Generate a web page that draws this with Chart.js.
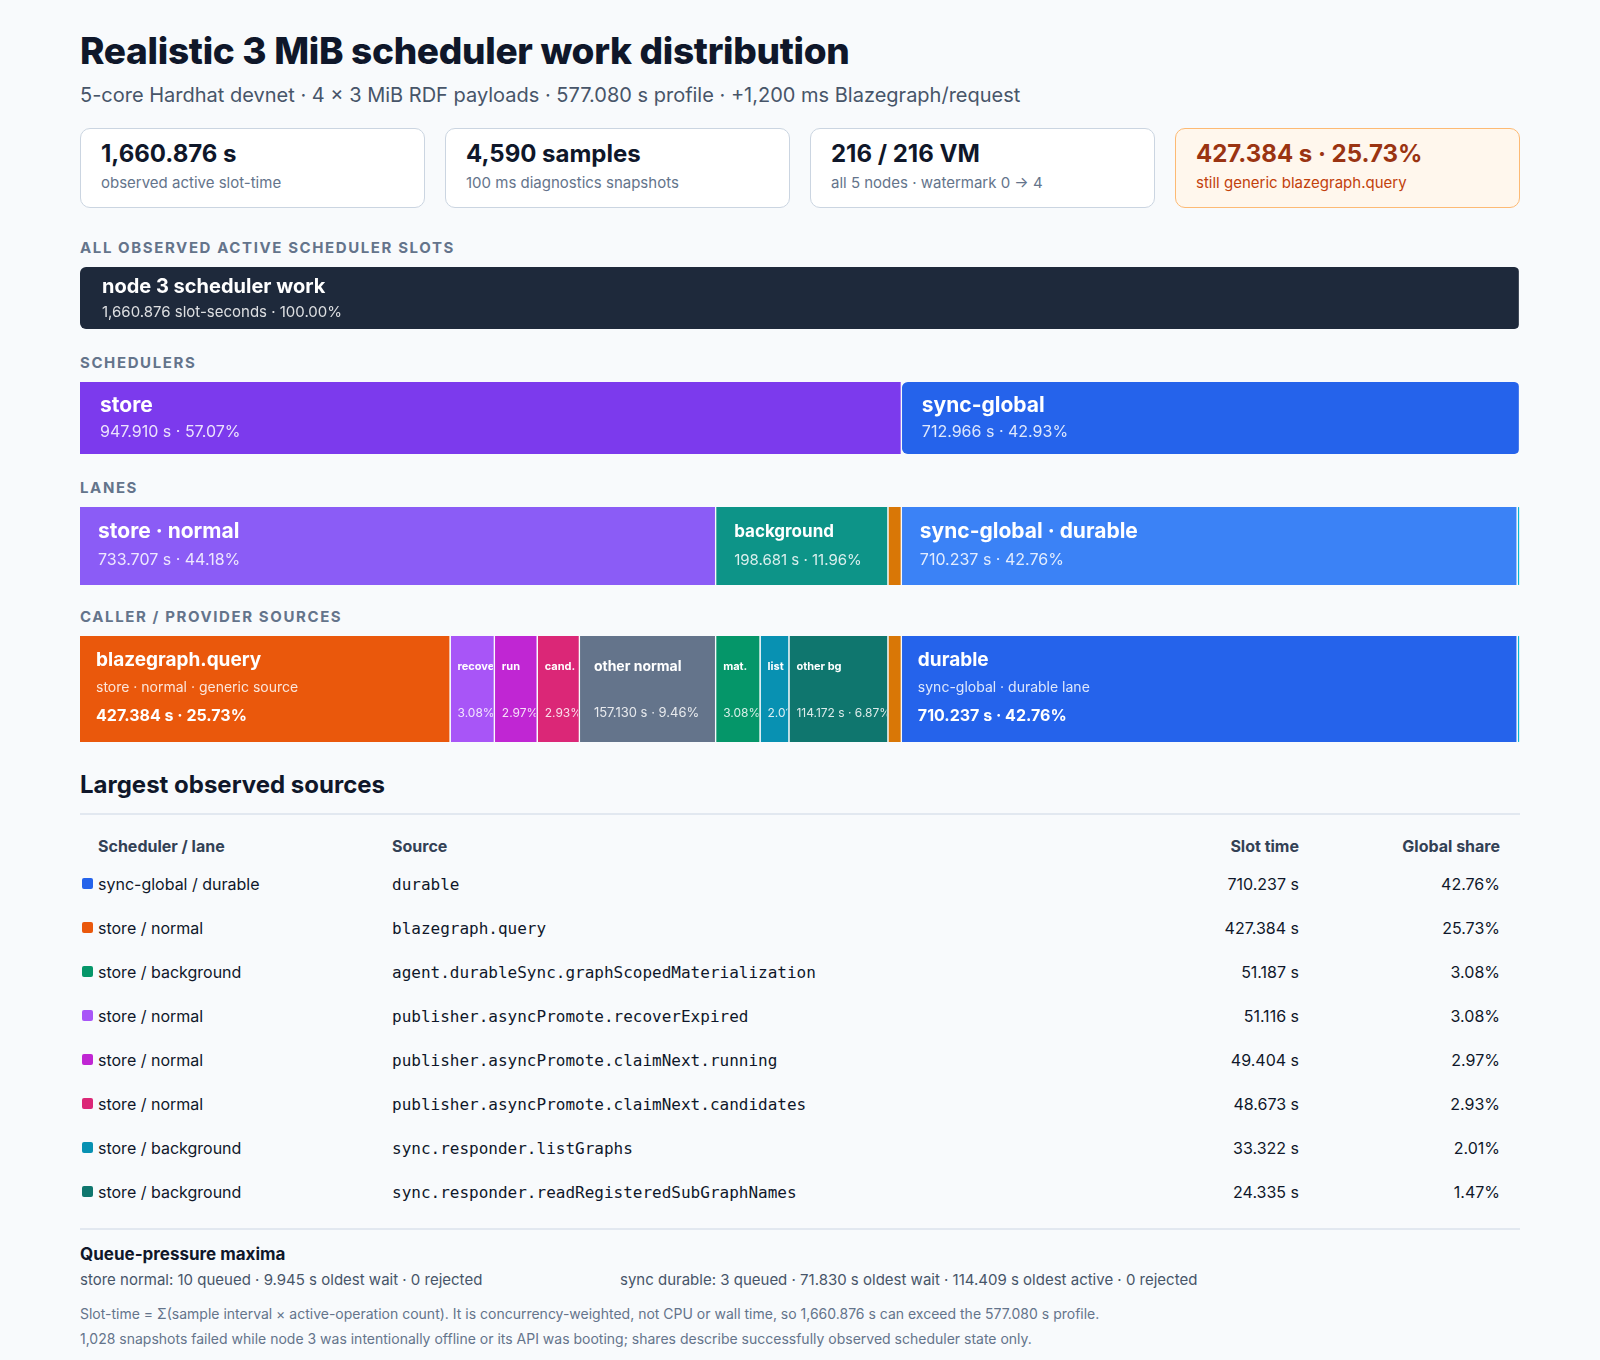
<!DOCTYPE html>
<html><head><meta charset="utf-8">
<script src="https://cdn.jsdelivr.net/npm/chart.js@4.4.1/dist/chart.umd.min.js"></script>
<style>
body{margin:0;background:#f8fafc;font-family:Inter,"Liberation Sans",sans-serif;color:#0f172a}
.wrap{width:1440px;margin:0 auto;padding-top:26px}
h1{font-size:37px;font-weight:800;margin:0;letter-spacing:-0.3px;line-height:50px}
.sub{font-size:20px;color:#475569;margin-top:6px;line-height:26px}
.cards{display:flex;gap:20px;margin-top:20px}
.card{flex:1;height:80px;border:1px solid #cbd5e1;border-radius:10px;background:#fff;box-sizing:border-box;padding:10px 20px}
.card b{display:block;font-size:24px;line-height:30px}
.card span{font-size:15px;color:#64748b;display:block;margin-top:4px}
.card.warn{background:#fff7ed;border-color:#fdba74}
.card.warn b{color:#9a3412}.card.warn span{color:#c2410c}
.sec{font-size:15px;font-weight:700;color:#64748b;letter-spacing:1.6px;margin:0 0 10px}
.row{position:relative}
h2{font-size:24px;font-weight:700;margin:0;line-height:30px}
hr{border:0;border-top:2px solid #e2e8f0;margin:0}
table{width:100%;border-collapse:collapse;font-size:16px}
th{font-size:16px;color:#334155;font-weight:700;text-align:left;height:30px}
td{height:42px}
th:first-child,td:first-child{padding-left:18px}
.num{text-align:right;padding-right:20px}
.mono{font-family:"DejaVu Sans Mono",monospace;font-size:16px}
.sq{display:inline-block;width:11px;height:11px;border-radius:2px;margin-right:5px;position:relative;left:-16px;margin-right:-11px;top:-1px}
.foot{font-size:14px;color:#64748b;line-height:25px}
</style></head><body>
<div class="wrap">
<h1>Realistic 3 MiB scheduler work distribution</h1>
<div class="sub">5-core Hardhat devnet · 4 × 3 MiB RDF payloads · 577.080 s profile · +1,200 ms Blazegraph/request</div>
<div class="cards">
<div class="card"><b>1,660.876 s</b><span>observed active slot-time</span></div>
<div class="card"><b>4,590 samples</b><span>100 ms diagnostics snapshots</span></div>
<div class="card"><b>216 / 216 VM</b><span>all 5 nodes · watermark 0 → 4</span></div>
<div class="card warn"><b>427.384 s · 25.73%</b><span>still generic blazegraph.query</span></div>
</div>
<div class="sec" style="margin-top:30px">ALL OBSERVED ACTIVE SCHEDULER SLOTS</div>
<div class="row" style="height:62px"><canvas id="c0"></canvas></div>
<div class="sec" style="margin-top:24px">SCHEDULERS</div>
<div class="row" style="height:72px"><canvas id="c1"></canvas></div>
<div class="sec" style="margin-top:24px">LANES</div>
<div class="row" style="height:78px"><canvas id="c2"></canvas></div>
<div class="sec" style="margin-top:22px">CALLER / PROVIDER SOURCES</div>
<div class="row" style="height:106px"><canvas id="c3"></canvas></div>
<h2 style="margin-top:28px">Largest observed sources</h2>
<hr style="margin-top:13px">
<table style="margin-top:15px"><thead><tr><th style="width:292px">Scheduler / lane</th><th>Source</th><th class="num" style="width:200px">Slot time</th><th class="num" style="width:180px">Global share</th></tr></thead>
<tbody id="tb"></tbody></table>
<hr style="margin-top:14px">
<div style="font-size:17px;font-weight:700;margin-top:14px">Queue-pressure maxima</div>
<div style="display:flex;font-size:15px;color:#475569;margin-top:6px"><div style="width:540px">store normal: 10 queued · 9.945 s oldest wait · 0 rejected</div><div>sync durable: 3 queued · 71.830 s oldest wait · 114.409 s oldest active · 0 rejected</div></div>
<div class="foot" style="margin-top:12px">Slot-time = Σ(sample interval × active-operation count). It is concurrency-weighted, not CPU or wall time, so 1,660.876 s can exceed the 577.080 s profile.<br>1,028 snapshots failed while node 3 was intentionally offline or its API was booting; shares describe successfully observed scheduler state only.</div>
</div>
<script>
const TOTAL = 1660.876;
const rootNames = ["node 3 scheduler work"], rootValues = [1660.876], rootSubs = ["1,660.876 slot-seconds · 100.00%"], rootColors = ["#1e293b"];
const schedNames = ["store","sync-global"], schedValues = [947.910,712.966], schedSubs = ["947.910 s · 57.07%","712.966 s · 42.93%"], schedColors = ["#7c3aed","#2563eb"];
const laneNames = ["store · normal","background","","sync-global · durable",""], laneValues = [733.707,198.681,15.522,710.237,2.729], laneSubs = ["733.707 s · 44.18%","198.681 s · 11.96%","","710.237 s · 42.76%",""], laneColors = ["#8b5cf6","#0d9488","#d97706","#3b82f6","#06b6d4"];
const srcNames = ["blazegraph.query","recover","run","cand.","other normal","mat.","list","other bg","","durable",""];
const srcValues = [427.384,51.116,49.404,48.673,157.130,51.187,33.322,114.172,15.522,710.237,2.729];
const srcSubs = ["427.384 s · 25.73%","3.08%","2.97%","2.93%","157.130 s · 9.46%","3.08%","2.01%","114.172 s · 6.87%","","710.237 s · 42.76%",""];
const srcNotes = ["store · normal · generic source","","","","","","","","","sync-global · durable lane",""];
const srcColors = ["#ea580c","#a855f7","#c026d3","#db2777","#64748b","#059669","#0891b2","#0f766e","#d97706","#2563eb","#06b6d4"];
const tblLane = ["sync-global / durable","store / normal","store / background","store / normal","store / normal","store / normal","store / background","store / background"];
const tblSrc = ["durable","blazegraph.query","agent.durableSync.graphScopedMaterialization","publisher.asyncPromote.recoverExpired","publisher.asyncPromote.claimNext.running","publisher.asyncPromote.claimNext.candidates","sync.responder.listGraphs","sync.responder.readRegisteredSubGraphNames"];
const tblTime = [710.237,427.384,51.187,51.116,49.404,48.673,33.322,24.335];
const tblShare = [42.76,25.73,3.08,3.08,2.97,2.93,2.01,1.47];
const tblColors = ["#2563eb","#ea580c","#059669","#a855f7","#c026d3","#db2777","#0891b2","#0f766e"];

document.getElementById('tb').innerHTML = tblLane.map((l,i)=>`<tr><td><span class="sq" style="background:${tblColors[i]}"></span>${l}</td><td class="mono">${tblSrc[i]}</td><td class="num">${tblTime[i].toFixed(3)} s</td><td class="num">${tblShare[i].toFixed(2)}%</td></tr>`).join('');

const F = 'Inter, "Liberation Sans", sans-serif';
function labelPlugin(names, subs, notes, mode){
  return {id:'lbl', afterDatasetsDraw(chart){
    const ctx = chart.ctx;
    chart.data.datasets.forEach((ds,i)=>{
      const el = chart.getDatasetMeta(i).data[0];
      if(!names[i]) return;
      const x0 = Math.min(el.base, el.x), x1 = Math.max(el.base, el.x);
      const top = el.y - el.height/2, h = el.height;
      const w = x1 - x0;
      ctx.save();
      ctx.beginPath(); ctx.rect(x0, top, w-2, h); ctx.clip();
      ctx.textBaseline='middle'; ctx.fillStyle='#fff';
      if(mode==='src'){
        if(w > 200){
          ctx.font = `700 19px ${F}`; ctx.fillText(names[i], x0+16, top+24);
          ctx.font = `400 14px ${F}`; ctx.fillStyle='rgba(255,255,255,0.85)'; ctx.fillText(notes[i], x0+16, top+52);
          ctx.font = `700 16px ${F}`; ctx.fillStyle='#fff'; ctx.fillText(subs[i], x0+16, top+80);
        } else {
          const pad = w > 100 ? 14 : 7;
          ctx.font = `700 ${w>100?14:11}px ${F}`; ctx.fillText(names[i], x0+pad, top+31);
          ctx.font = `400 ${w>100?13:12}px ${F}`; ctx.fillStyle='rgba(255,255,255,0.85)'; ctx.fillText(subs[i], x0+pad, top+77);
        }
      } else {
        const big = mode==='root' ? 20 : (w>250?21:17);
        const pad = mode==='root' ? 22 : (mode==='sched'?20:18);
        const ty = mode==='root'?20:(mode==='sched'?24:25), sy = mode==='root'?45:(mode==='sched'?50:53);
        ctx.font = `700 ${big}px ${F}`; ctx.fillText(names[i], x0+pad, top+ty);
        ctx.font = `400 ${mode==='root'?15:(w>250?16:15)}px ${F}`; ctx.fillStyle='rgba(255,255,255,0.85)'; ctx.fillText(subs[i], x0+pad, top+sy);
      }
      ctx.restore();
    });
  }};
}
function make(id, names, values, subs, colors, notes, mode){
  new Chart(document.getElementById(id), {
    type:'bar',
    data:{labels:[''], datasets: values.map((v,i)=>({data:[v], backgroundColor:colors[i], borderColor:'#f8fafc', borderWidth:{left:0,right:1.5,top:0,bottom:0}, borderRadius:6, borderSkipped:false, barPercentage:1, categoryPercentage:1}))},
    options:{indexAxis:'y', responsive:true, maintainAspectRatio:false, animation:false,
      layout:{padding:0},
      scales:{x:{display:false, stacked:true, min:0, max:TOTAL}, y:{display:false, stacked:true}},
      plugins:{legend:{display:false}, tooltip:{enabled:false}}},
    plugins:[labelPlugin(names, subs, notes, mode)]
  });
}
make('c0', rootNames, rootValues, rootSubs, rootColors, [], 'root');
make('c1', schedNames, schedValues, schedSubs, schedColors, [], 'sched');
make('c2', laneNames, laneValues, laneSubs, laneColors, [], 'lane');
make('c3', srcNames, srcValues, srcSubs, srcColors, srcNotes, 'src');
</script>
</body></html>
